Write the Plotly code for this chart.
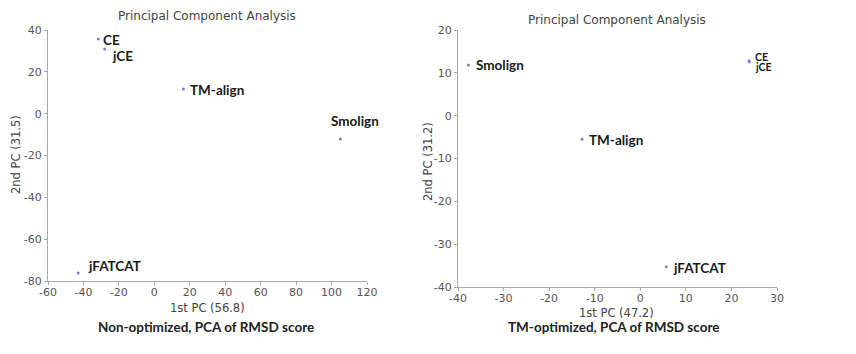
import plotly.graph_objects as go

# ---- data ----
methods_left = ["CE", "jCE", "TM-align", "Smolign", "jFATCAT"]
pc1_left = [-31.6, -28.0, 16.4, 105.0, -43.0]
pc2_left = [35.7, 30.9, 11.8, -12.1, -76.2]

methods_right = ["Smolign", "CE", "jCE", "TM-align", "jFATCAT"]
pc1_right = [-37.7, 23.9, 23.9, -12.8, 5.7]
pc2_right = [11.8, 12.8, 12.6, -5.5, -35.3]

title_text = "Principal Component Analysis"
xtitle_left = "1st PC (56.8)"
ytitle_left = "2nd PC (31.5)"
xtitle_right = "1st PC (47.2)"
ytitle_right = "2nd PC (31.2)"
caption_left = "Non-optimized, PCA of RMSD score"
caption_right = "TM-optimized, PCA of RMSD score"

xticks_left = [-60, -40, -20, 0, 20, 40, 60, 80, 100, 120]
yticks_left = [-80, -60, -40, -20, 0, 20, 40]
xticks_right = [-40, -30, -20, -10, 0, 10, 20, 30]
yticks_right = [-40, -30, -20, -10, 0, 10, 20]

# ---- styling (label offsets in px, font size) ----
shift_left = {"CE": (3, -1, 13.5), "jCE": (5, -7, 13.5), "TM-align": (5, -1, 13.5),
              "Smolign": (-11, 18, 13.5), "jFATCAT": (8, 7, 13.5)}
shift_right = {"Smolign": (6, 0, 13.5), "CE": (4, 4, 10.5), "jCE": (4, -5, 10.5),
               "TM-align": (5, -1, 13.5), "jFATCAT": (5, -1, 13.5)}

W, H = 856, 354
OFF = 8  # page body margin compensation
marker_color = "#7b7bd6"
axis_color = "#a8a8a8"
tick_font = dict(family="DejaVu Sans", size=11, color="#555555")
title_font = dict(family="DejaVu Sans", size=12, color="#444444")
axtitle_font = dict(family="DejaVu Sans", size=11.5, color="#444444")
caption_font = dict(family="Lato, Open Sans", size=13.5, color="#222222", weight="bold")

def label_font(size):
    return dict(family="Lato, Open Sans", size=size, color="#1a1a1a", weight="bold")

fig = go.Figure()
fig.add_trace(go.Scatter(x=pc1_left, y=pc2_left, mode="markers", xaxis="x", yaxis="y",
                         marker=dict(size=3, color=marker_color), hoverinfo="skip",
                         showlegend=False))
fig.add_trace(go.Scatter(x=pc1_right, y=pc2_right, mode="markers", xaxis="x2", yaxis="y2",
                         marker=dict(size=3, color=marker_color), hoverinfo="skip",
                         showlegend=False))

def axis(rng, ticks, domain, anchor, standoff=0):
    return dict(range=rng, tickvals=ticks, ticktext=[str(t) for t in ticks],
                domain=domain, anchor=anchor, automargin=False,
                showline=True, linecolor=axis_color, linewidth=1.2,
                ticks="outside", ticklen=3, tickcolor=axis_color,
                ticklabelstandoff=standoff,
                showgrid=False, zeroline=False, tickfont=tick_font, fixedrange=True)

def px_x(p):
    return (p - OFF) / W

def px_y(p):
    return 1 - (p - OFF) / H

fig.update_layout(
    width=W, height=H,
    margin=dict(l=0, r=0, t=0, b=0, pad=0, autoexpand=False),
    paper_bgcolor="white", plot_bgcolor="white",
    xaxis=axis([-60, 120], xticks_left, [px_x(48), px_x(367)], "y", -2),
    yaxis=axis([-80, 40], yticks_left, [px_y(281), px_y(30)], "x"),
    xaxis2=axis([-40, 30], xticks_right, [px_x(458), px_x(777)], "y2", -2),
    yaxis2=axis([-40, 20], yticks_right, [px_y(287), px_y(30)], "x2"),
)

ann = []
for m, x, y in zip(methods_left, pc1_left, pc2_left):
    dx, dy, fs = shift_left[m]
    ann.append(dict(x=x, y=y, xref="x", yref="y", text=m, showarrow=False,
                    xanchor="left", yanchor="middle", xshift=dx, yshift=dy,
                    font=label_font(fs)))
for m, x, y in zip(methods_right, pc1_right, pc2_right):
    dx, dy, fs = shift_right[m]
    ann.append(dict(x=x, y=y, xref="x2", yref="y2", text=m, showarrow=False,
                    xanchor="left", yanchor="middle", xshift=dx, yshift=dy,
                    font=label_font(fs)))

def paper_text(text, cx, cy, font, angle=0):
    return dict(x=px_x(cx), y=px_y(cy), xref="paper", yref="paper", text=text,
                showarrow=False, xanchor="center", yanchor="middle",
                textangle=angle, font=font)

ann += [
    paper_text(title_text, 207, 16, title_font),
    paper_text(title_text, 617, 20, title_font),
    paper_text(xtitle_left, 207, 308, axtitle_font),
    paper_text(xtitle_right, 616, 313, axtitle_font),
    paper_text(ytitle_left, 16, 155, axtitle_font, -90),
    paper_text(ytitle_right, 428, 162, axtitle_font, -90),
    paper_text(caption_left, 206, 327, caption_font),
    paper_text(caption_right, 614, 327, caption_font),
]
fig.update_layout(annotations=ann)

fig.write_html("out.html")
